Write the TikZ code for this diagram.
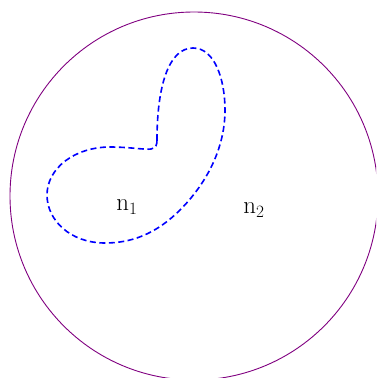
\documentclass[tikz,border=0pt]{standalone}
\begin{document}
\begin{tikzpicture}[x=1pt,y=-1pt,
  outer/.style={draw={rgb,255:red,128;green,0;blue,128},line width=0.9pt},
  region/.style={draw=blue,line width=1.6pt,dash pattern=on 6pt off 3.5pt},
  lbl/.style={inner sep=0pt,font=\fontsize{23}{26}\selectfont}]
\useasboundingbox (0,0) rectangle (376,378);
\begin{scope}
\clip (0,0) rectangle (376,378);
\draw[outer] (194,196) circle (184);
\end{scope}
\draw[region] (157,140) .. controls (157,88) and (168,48) .. (193,48)
  .. controls (215,48) and (225,80) .. (225,110)
  .. controls (225,150) and (205,185) .. (180,210)
  .. controls (155,235) and (130,243) .. (105,243)
  .. controls (70,243) and (47,220) .. (47,195)
  .. controls (47,168) and (75,147) .. (110,147)
  .. controls (130,147) and (145,150) .. (151,149)
  .. controls (156,148) and (157,145) .. (157,140) -- cycle;
\node[lbl] (n1) at (127,207) {$\mathrm{n}_1$};
\node[lbl] (n2) at (254,210) {$\mathrm{n}_2$};
\end{tikzpicture}
\end{document}
